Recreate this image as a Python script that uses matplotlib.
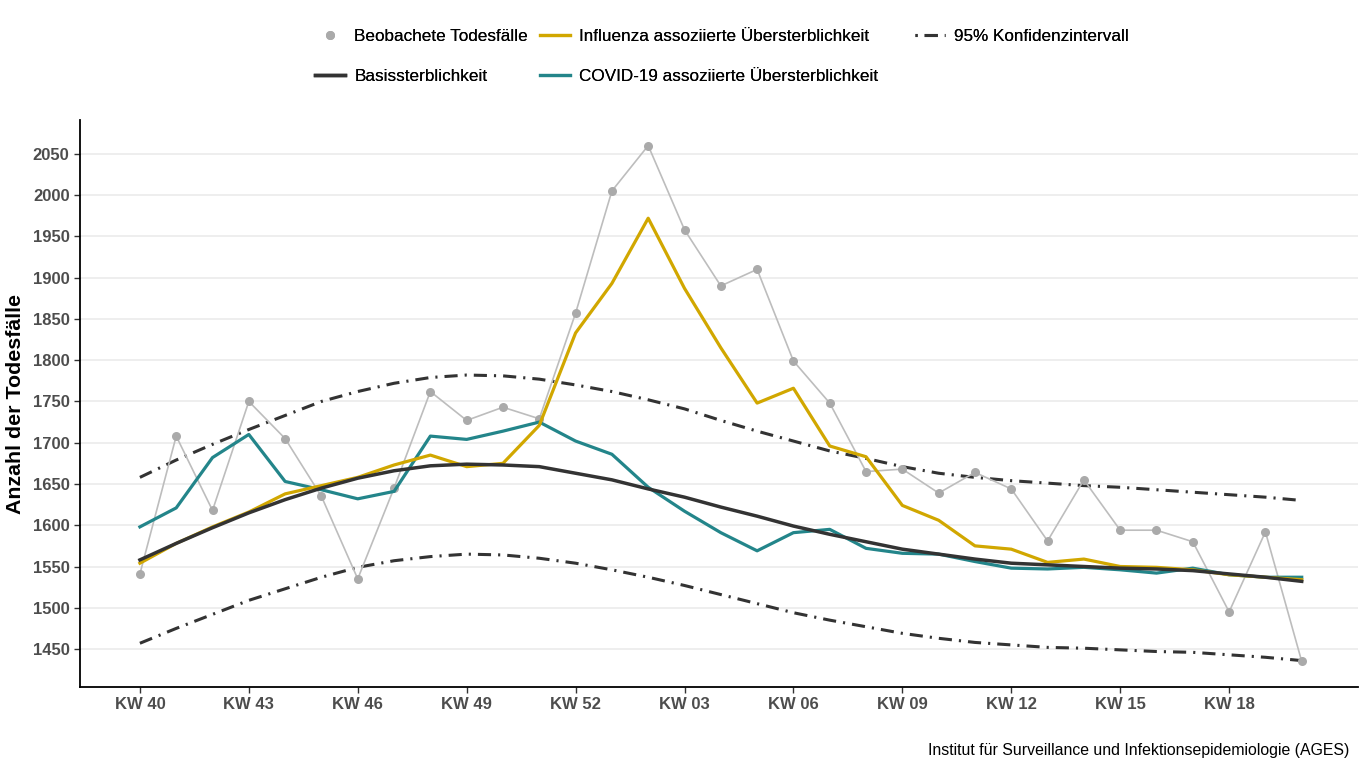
import matplotlib
matplotlib.use("Agg")
import matplotlib.pyplot as plt
from matplotlib.lines import Line2D
import numpy as np

plt.rcParams['font.family'] = ['Liberation Sans', 'DejaVu Sans']

# Kalenderwochen KW 40 .. KW 52, KW 01 .. KW 20
weeks = list(range(40, 53)) + list(range(1, 21))

observed = [1541, 1708, 1618, 1750, 1705, 1635, 1535, 1645, 1762, 1727, 1743, 1729,
            1857, 2005, 2060, 1958, 1890, 1910, 1799, 1748, 1665, 1668, 1639, 1664,
            1644, 1581, 1655, 1594, 1594, 1580, 1495, 1592, 1435]

basis = [1558, 1578, 1597, 1615, 1631, 1645, 1657, 1666, 1672, 1674, 1673, 1671,
         1663, 1655, 1644, 1634, 1622, 1611, 1599, 1589, 1580, 1571, 1565, 1559,
         1554, 1552, 1550, 1548, 1547, 1545, 1541, 1537, 1532]

influenza = [1554, 1578, 1598, 1616, 1638, 1648, 1658, 1673, 1685, 1671, 1675, 1721,
             1833, 1893, 1972, 1887, 1815, 1748, 1766, 1696, 1683, 1624, 1606, 1575,
             1571, 1555, 1559, 1550, 1549, 1546, 1540, 1537, 1534]

covid = [1598, 1621, 1682, 1710, 1653, 1643, 1632, 1641, 1708, 1704, 1714, 1725,
         1702, 1686, 1646, 1617, 1591, 1569, 1591, 1595, 1572, 1566, 1565, 1556,
         1548, 1547, 1549, 1546, 1542, 1548, 1540, 1537, 1537]

ci_upper = [1658, 1679, 1698, 1716, 1733, 1750, 1762, 1772, 1779, 1782, 1781, 1777,
            1770, 1762, 1752, 1741, 1727, 1714, 1702, 1690, 1681, 1671, 1663, 1658,
            1654, 1651, 1648, 1646, 1643, 1640, 1637, 1634, 1630]

ci_lower = [1457, 1475, 1492, 1509, 1523, 1537, 1549, 1557, 1562, 1565, 1564, 1560,
            1554, 1546, 1537, 1527, 1516, 1505, 1494, 1485, 1477, 1469, 1463, 1458,
            1455, 1452, 1451, 1449, 1447, 1446, 1443, 1440, 1436]

COL_OBS = "#AAAAAA"
COL_OBS_LINE = "#BDBDBD"
COL_BASIS = "#333333"
COL_FLU = "#D1A700"
COL_COVID = "#23858A"
TEXT_GREY = "#4D4D4D"

W, H = 1370, 770

x = np.arange(len(weeks))
tick_idx = x[::3][:11]
tick_labels = [f"KW {weeks[i]:02d}" for i in tick_idx]

fig = plt.figure(figsize=(W / 100, H / 100), dpi=100)
ax = fig.add_axes([80 / W, 1 - 687 / H, (1358 - 80) / W, (687 - 120) / H])

ci_dash = (4.3, 2.3, 0.7, 2.3)
ax.plot(x, ci_upper, color=COL_BASIS, lw=2.2, dashes=ci_dash, zorder=2)
ax.plot(x, ci_lower, color=COL_BASIS, lw=2.2, dashes=ci_dash, zorder=2)
ax.plot(x, observed, color=COL_OBS_LINE, lw=1.2, zorder=3)
ax.plot(x, observed, 'o', color=COL_OBS, ms=6.5, mec='none', zorder=3)
ax.plot(x, covid, color=COL_COVID, lw=2.3, zorder=4)
ax.plot(x, influenza, color=COL_FLU, lw=2.3, zorder=5)
ax.plot(x, basis, color=COL_BASIS, lw=2.5, zorder=6)

ax.set_xlim(-1.65, 33.55)
ax.set_ylim(1404, 2091)
ax.set_xticks(tick_idx)
ax.set_xticklabels(tick_labels)
ax.set_yticks(np.arange(1450, 2051, 50))
ax.tick_params(axis='both', labelsize=12, labelcolor=TEXT_GREY, color='#333333',
               length=4, width=1)
for lab in ax.get_xticklabels() + ax.get_yticklabels():
    lab.set_fontweight('bold')

ax.grid(axis='y', color='#EBEBEB', lw=1.2)
ax.set_axisbelow(True)
for side in ['top', 'right']:
    ax.spines[side].set_visible(False)
for side in ['left', 'bottom']:
    ax.spines[side].set_color('black')
    ax.spines[side].set_linewidth(1.3)

ax.set_ylabel("Anzahl der Todesfälle", fontsize=15.4, fontweight='bold')
ax.yaxis.set_label_coords((25 - 80) / 1278, 0.5)

# Legende: drei Spalten, einzeln platziert
h_obs = Line2D([], [], marker='o', color=COL_OBS, ls='none', ms=6.5, mec='none')
h_basis = Line2D([], [], color=COL_BASIS, lw=2.5)
h_flu = Line2D([], [], color=COL_FLU, lw=2.3)
h_covid = Line2D([], [], color=COL_COVID, lw=2.3)
h_ci = Line2D([], [], color=COL_BASIS, lw=2.2, dashes=(0.7, 2.3, 4.3, 2.3))

columns = [
    (315, [h_obs, h_basis], ["Beobachete Todesfälle", "Basissterblichkeit"]),
    (540, [h_flu, h_covid], ["Influenza assoziierte Übersterblichkeit",
                             "COVID-19 assoziierte Übersterblichkeit"]),
    (915, [h_ci], ["95% Konfidenzintervall"]),
]
for left, hs, ls in columns:
    leg = fig.legend(hs, ls, loc='upper left', bbox_to_anchor=(left / W, 1 - 29 / H),
                     frameon=False, fontsize=12.3, handlelength=1.75, handletextpad=0.55,
                     labelspacing=1.45, borderpad=0, borderaxespad=0)
    fig.add_artist(leg)

fig.text(1349 / W, 1 - 750 / H, "Institut für Surveillance und Infektionsepidemiologie (AGES)",
         ha='right', va='center', fontsize=11.4, color='black')

fig.savefig("out.png", dpi=100)
